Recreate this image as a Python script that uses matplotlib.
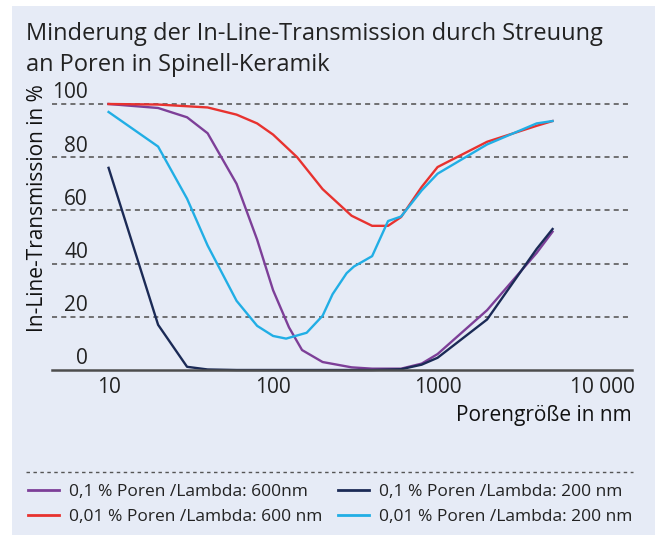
import matplotlib
matplotlib.use("Agg")
import matplotlib.pyplot as plt
from matplotlib.patches import Rectangle
from matplotlib.lines import Line2D
import matplotlib.transforms as mtransforms

plt.rcParams['font.family'] = ['Open Sans', 'DejaVu Sans']

title_lines = ["Minderung der In-Line-Transmission durch Streuung",
               "an Poren in Spinell-Keramik"]
ylabel = "In-Line-Transmission in %"
xlabel = "Porengröße in nm"

# Series: pore size (nm) and in-line transmission (%)
x_p600 = [10, 20, 30, 40, 60, 80, 100, 125, 150, 200, 300, 400, 600, 800, 1000, 2000, 4000, 5000]
y_p600 = [100, 98.5, 95, 89, 70, 49, 30, 16, 7.5, 3, 1, 0.5, 0.5, 2.4, 6, 22.5, 44, 52]

x_p200 = [10, 20, 30, 40, 60, 100, 200, 400, 600, 800, 1000, 2000, 4000, 5000]
y_p200 = [76, 17, 1.2, 0.2, 0, 0, 0, 0, 0.3, 2, 4.6, 19, 45.5, 53]

x_r600 = [10, 20, 40, 60, 80, 100, 140, 200, 300, 400, 500, 600, 800, 1000, 2000, 4000, 5000]
y_r600 = [100, 99.8, 98.7, 96, 92.7, 88.5, 80, 68, 58, 54.2, 54.2, 57.5, 68.8, 76.3, 85.8, 91.8, 93.6]

x_r200 = [10, 20, 30, 40, 60, 80, 100, 120, 160, 200, 230, 280, 310, 400, 500, 600, 800, 1000, 2000, 4000, 5000]
y_r200 = [97, 84, 64.4, 46.8, 26, 16.6, 12.8, 11.8, 14, 20.4, 28.5, 36.4, 38.9, 42.8, 56, 57.7, 67.5, 73.8, 84.8, 92.7, 93.6]

labels = ["0,1 % Poren /Lambda: 600nm", "0,01 % Poren /Lambda: 600 nm",
          "0,1 % Poren /Lambda: 200 nm", "0,01 % Poren /Lambda: 200 nm"]
colors = ["#7d3f98", "#e8322f", "#1b2a56", "#21aee5"]

yticks = [0, 20, 40, 60, 80, 100]
xticks = [10, 100, 1000, 10000]
xticklabels = ["10", "100", "1000", "10 000"]

W, H = 664, 535
def fx(px):
    return px / W
def fy(py):
    return 1 - py / H

fig = plt.figure(figsize=(W / 100, H / 100), dpi=100)
fig.patch.set_facecolor("white")
fig.patches.append(Rectangle((fx(12), 0), (655 - 12) / W, (H - 6) / H,
                             transform=fig.transFigure, facecolor="#e6ebf6",
                             edgecolor="none", zorder=-10))

ax_left, ax_right = 52, 632
ax_top, ax_bottom = 104, 370
ax = fig.add_axes([fx(ax_left), fy(ax_bottom), (ax_right - ax_left) / W, (ax_bottom - ax_top) / H])
ax.set_facecolor("none")
ax.set_xscale("log")
ax.set_xlim(4.53, 15200)
ax.set_ylim(0, 100)

for yt in yticks[1:]:
    ax.axhline(yt, color="#666666", lw=1.3, ls=(0, (2.8, 2.3)), zorder=1, clip_on=False)

series = [(x_p600, y_p600), (x_r600, y_r600), (x_p200, y_p200), (x_r200, y_r200)]
handles = []
for (xs, ys), c, lab in zip(series, colors, labels):
    h, = ax.plot(xs, ys, color=c, lw=1.7, label=lab, clip_on=False, zorder=3)
    handles.append(h)

for s in ["top", "right", "left"]:
    ax.spines[s].set_visible(False)
ax.spines["bottom"].set_color("#4d4d4d")
ax.spines["bottom"].set_linewidth(1.8)
ax.spines["bottom"].set_zorder(4)

ax.set_yticks([])
ax.set_xticks(xticks)
ax.set_xticklabels(xticklabels, fontsize=15, color="#222222")
ax.tick_params(axis="x", length=0, pad=5)
ax.xaxis.set_minor_locator(matplotlib.ticker.NullLocator())

trans = mtransforms.blended_transform_factory(ax.transAxes, ax.transData)
offset = mtransforms.ScaledTranslation(0, 4 / 72, fig.dpi_scale_trans)
for yt in yticks:
    ax.text((88 - ax_left) / (ax_right - ax_left), yt, str(yt), transform=trans + offset,
            ha="right", va="baseline", fontsize=15, color="#222222")

fig.text(fx(43), fy(208), ylabel, rotation=90, rotation_mode="anchor",
         ha="center", va="baseline", fontsize=15, color="#111111")
fig.text(fx(632), fy(421), xlabel, ha="right", va="baseline", fontsize=15, color="#111111")
fig.text(fx(26), fy(40), title_lines[0], ha="left", va="baseline", fontsize=17, color="#222222")
fig.text(fx(26), fy(71), title_lines[1], ha="left", va="baseline", fontsize=17, color="#222222")

fig.lines.append(Line2D([fx(26), fx(633)], [fy(472), fy(472)], transform=fig.transFigure,
                        color="#555555", lw=1.0, ls=(0, (2.5, 2.5))))

leg_kw = dict(loc="center left", frameon=False, fontsize=12.5, handlelength=1.8,
              handletextpad=0.55, labelspacing=0.55, borderaxespad=0, borderpad=0,
              labelcolor="#222222")
leg1 = fig.legend(handles[:2], labels[:2], bbox_to_anchor=(fx(28), fy(504.5)), **leg_kw)
leg2 = fig.legend(handles[2:], labels[2:], bbox_to_anchor=(fx(338), fy(504.5)), **leg_kw)
for lg in (leg1, leg2):
    for ln in lg.get_lines():
        ln.set_linewidth(2.0)

fig.savefig("out.png", dpi=100, facecolor="white")
